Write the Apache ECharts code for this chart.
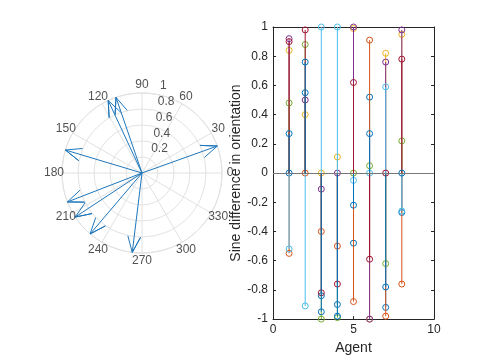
<!DOCTYPE html>
<html><head><meta charset="utf-8">
<script src="https://cdn.jsdelivr.net/npm/echarts@6/dist/echarts.min.js"></script>
<style>html,body{margin:0;padding:0;background:#fff}#c{width:480px;height:360px}</style>
</head><body><div id="c"></div>
<script>
// ---- Stem plot data (value of each series at agents 1..8) ----
const agents = [1, 2, 3, 4, 5, 6, 7, 8];
const stem1 = [0, 0.55, -0.84, -0.90, -0.48, 0.52, -0.92, -0.27];
const stem2 = [-0.55, 0, -0.40, -0.50, -0.88, 0.91, -0.98, -0.76];
const stem3 = [0.84, 0.40, 0, 0.11, 0.99, -1.00, 0.82, 0.95];
const stem4 = [0.92, 0.50, -0.11, 0, 1.00, -1.00, 0.76, 0.98];
const stem5 = [0.48, 0.88, -1.00, -0.99, 0, 0.05, -0.62, 0.22];
const stem6 = [-0.52, -0.91, 1.00, 1.00, -0.05, 0, 0.59, -0.26];
const stem7 = [0.90, 0.98, -0.82, -0.76, 0.62, -0.59, 0, 0.78];
const stem8 = [0.27, 0.76, -0.95, -0.98, -0.22, 0.27, -0.78, 0];
const stemColors = ['#0072BD', '#D95319', '#EDB120', '#7E2F8E', '#77AC30', '#4DBEEE', '#A2142F', '#0072BD'];

// ---- Compass data ----
const arrowAngles = [19.7, 109, 115, 163.3, 201.2, 213.4, 229.6, 263];
const arrowLengths = [1, 1, 1, 1, 1, 1, 1, 1];

// ---- Tick labels ----
const angleTicks = [0, 30, 60, 90, 120, 150, 180, 210, 240, 270, 300, 330];
const radiusTicks = [0.2, 0.4, 0.6, 0.8, 1];
const xLabel = 'Agent';
const yLabel = 'Sine difference in orientation';

const FONT = 'Liberation Sans';
const TXT = '#262626';
const GRID = '#e2e2e2';

const stemData = [stem1, stem2, stem3, stem4, stem5, stem6, stem7, stem8];

const stemSeries = stemData.map((vals, k) => ({
  type: 'custom',
  xAxisIndex: 0, yAxisIndex: 0,
  data: agents.map((a, i) => [a, vals[i]]),
  clip: false,
  silent: true,
  renderItem: (params, api) => {
    const x = api.value(0), y = api.value(1);
    const b = api.coord([x, 0]);
    const t = api.coord([x, y]);
    const c = stemColors[k];
    return {
      type: 'group',
      children: [
        {type: 'line', shape: {x1: b[0], y1: b[1], x2: t[0], y2: t[1]}, style: {stroke: c, lineWidth: 1}},
        {type: 'circle', shape: {cx: t[0], cy: t[1], r: 3}, style: {stroke: c, fill: null, lineWidth: 1}}
      ]
    };
  },
  markLine: k === 0 ? {
    silent: true, symbol: 'none', animation: false,
    label: {show: false},
    lineStyle: {color: '#777', width: 1, type: 'solid'},
    data: [{yAxis: 0}]
  } : undefined
}));

const compassSeries = {
  type: 'custom',
  coordinateSystem: 'polar',
  polarIndex: 0,
  silent: true,
  clip: false,
  data: arrowAngles.map((a, i) => [arrowLengths[i], a]),
  renderItem: (params, api) => {
    const r = api.value(0), a = api.value(1);
    const o = api.coord([0, a]);
    const t = api.coord([r, a]);
    const h1 = api.coord([r * 0.804, a + 5.71]);
    const h2 = api.coord([r * 0.804, a - 5.71]);
    return {type: 'polyline', shape: {points: [o, t, h1, t, h2]},
            style: {stroke: '#1f77bb', fill: null, lineWidth: 1}};
  }
};

// angle labels drawn on a second (invisible) polar whose radius is 1.1x the first
const angleLabelSeries = {
  type: 'scatter', coordinateSystem: 'polar', polarIndex: 1, silent: true,
  clip: false,
  symbolSize: 0.1, itemStyle: {color: 'transparent'},
  data: angleTicks.map(a => [1, a]),
  label: {show: true, position: 'inside', align: 'center', verticalAlign: 'middle',
          formatter: p => String(angleTicks[p.dataIndex]),
          color: TXT, fontFamily: FONT, fontSize: 12}
};

const radiusLabelSeries = {
  type: 'scatter', coordinateSystem: 'polar', polarIndex: 0, silent: true,
  clip: false,
  symbolSize: 0.1, itemStyle: {color: 'transparent'},
  data: radiusTicks.map(r => [r, 82]),
  label: {show: true, position: [7, -2], align: 'left', verticalAlign: 'bottom',
          formatter: p => String(radiusTicks[p.dataIndex]),
          color: TXT, fontFamily: FONT, fontSize: 12}
};

const axisCommon = {
  axisLine: {show: true, onZero: false, lineStyle: {color: TXT, width: 1}},
  axisTick: {show: true, inside: true, length: 3, lineStyle: {color: TXT}},
  splitLine: {show: false}
};

const hiddenAxis = {
  axisLine: {show: false}, axisTick: {show: false}, axisLabel: {show: false}, splitLine: {show: false}
};

const option = {
  animation: false,
  backgroundColor: '#fff',
  textStyle: {fontFamily: FONT},
  grid: {left: 273, top: 27, width: 161, height: 293},
  xAxis: [
    Object.assign({type: 'value', min: 0, max: 10, interval: 5, position: 'bottom',
      axisLabel: {margin: 5, color: TXT, fontFamily: FONT, fontSize: 12},
      name: xLabel, nameLocation: 'middle', nameGap: 17,
      nameTextStyle: {color: TXT, fontFamily: FONT, fontSize: 14}}, axisCommon),
    Object.assign({type: 'value', min: 0, max: 10, interval: 5, position: 'top',
      axisLabel: {show: false}}, axisCommon)
  ],
  yAxis: [
    Object.assign({type: 'value', min: -1, max: 1, interval: 0.2, position: 'left',
      axisLabel: {margin: 5, color: TXT, fontFamily: FONT, fontSize: 12},
      name: yLabel, nameLocation: 'middle', nameGap: 30, nameRotate: 90,
      nameTextStyle: {color: TXT, fontFamily: FONT, fontSize: 14}}, axisCommon),
    Object.assign({type: 'value', min: -1, max: 1, interval: 0.2, position: 'right',
      axisLabel: {show: false}}, axisCommon)
  ],
  polar: [{center: [142, 173], radius: 80}, {center: [142, 173], radius: 88}],
  angleAxis: [{
    polarIndex: 0, type: 'value', min: 0, max: 360, interval: 30,
    startAngle: 0, clockwise: false,
    axisLine: {show: true, lineStyle: {color: GRID, width: 1}},
    axisTick: {show: false}, axisLabel: {show: false},
    splitLine: {show: true, lineStyle: {color: GRID, width: 1}}
  }, Object.assign({polarIndex: 1, type: 'value', min: 0, max: 360,
    startAngle: 0, clockwise: false}, hiddenAxis)],
  radiusAxis: [{
    polarIndex: 0, type: 'value', min: 0, max: 1, interval: 0.2,
    axisLine: {show: false}, axisTick: {show: false}, axisLabel: {show: false},
    splitLine: {show: true, lineStyle: {color: GRID, width: 1}}
  }, Object.assign({polarIndex: 1, type: 'value', min: 0, max: 1}, hiddenAxis)],
  series: [...stemSeries, compassSeries, angleLabelSeries, radiusLabelSeries]
};

const chart = echarts.init(document.getElementById('c'), null, {renderer: 'canvas'});
chart.setOption(option);
</script>
</body></html>
